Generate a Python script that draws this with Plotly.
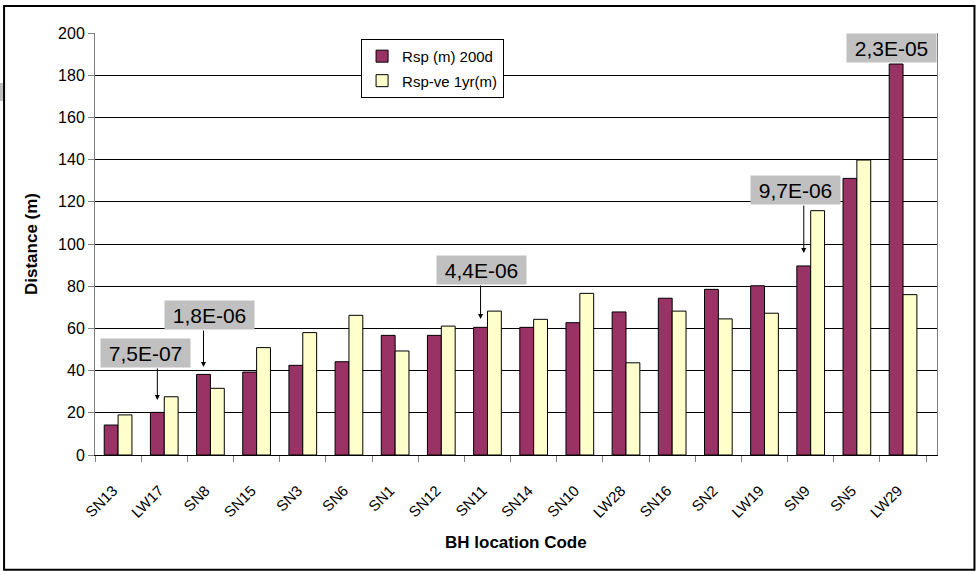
import plotly.graph_objects as go

categories = ["SN13", "LW17", "SN8", "SN15", "SN3", "SN6", "SN1", "SN12", "SN11",
              "SN14", "SN10", "LW28", "SN16", "SN2", "LW19", "SN9", "SN5", "LW29"]
rsp_200d = [14.2, 20.2, 38.2, 39.3, 42.5, 44.2, 56.7, 56.7, 60.5,
            60.5, 62.7, 67.8, 74.3, 78.5, 80.2, 89.6, 131.1, 185.3]
rsp_ve_1yr = [19.0, 27.6, 31.6, 50.9, 58.0, 66.2, 49.3, 61.1, 68.2,
              64.3, 76.6, 43.7, 68.2, 64.5, 67.2, 115.8, 139.8, 76.0]

# annotation labels: (text, box x index, box y value, arrow x index, arrow tip y value, arrow length px)
ann_text = ["7,5E-07", "1,8E-06", "4,4E-06", "9,7E-06", "2,3E-05"]
ann_box_x = [0.60, 1.97, 7.865, 14.67, 16.75]
ann_box_y = [48.3, 66.4, 87.9, 125.6, 193.1]
ann_tip_x = [0.85, 1.85, 7.85, 14.85, None]
ann_tip_y = [26.1, 41.7, 64.5, 95.7, None]
ann_len = [33, 38, 35, 49, None]

FONT = "Arial, Liberation Sans, sans-serif"

fig = go.Figure()
fig.add_trace(go.Bar(x=categories, y=rsp_200d, name="Rsp (m) 200d",
                     marker=dict(color="#993366", line=dict(color="#000000", width=1)),
                     legendgroup="a"))
fig.add_trace(go.Bar(x=categories, y=rsp_ve_1yr, name="Rsp-ve 1yr(m)",
                     marker=dict(color="#FFFFCC", line=dict(color="#000000", width=1)),
                     legendgroup="b"))

annotations = []
for t, bx, by, tx, ty, ln in zip(ann_text, ann_box_x, ann_box_y, ann_tip_x, ann_tip_y, ann_len):
    if tx is not None:
        annotations.append(dict(x=tx, y=ty, xref="x", yref="y", text="", showarrow=True,
                                ax=0, ay=-ln, arrowhead=2, arrowsize=1, arrowwidth=1,
                                arrowcolor="#000000", standoff=0, startstandoff=0))
    annotations.append(dict(x=bx, y=by, xref="x", yref="y", text=t, showarrow=False,
                            bgcolor="#C0C0C0", borderpad=2, width=85, height=24,
                            font=dict(family=FONT, size=21, color="#000000")))

annotations.append(dict(x=0.5, y=-0.208, xref="paper", yref="paper", text="<b>BH location Code</b>",
                        showarrow=False, xanchor="center", yanchor="middle",
                        font=dict(family=FONT, size=17, color="#000000")))

shapes = [
    dict(type="rect", xref="paper", yref="paper", x0=-0.108, x1=1.0445, y0=-0.272, y1=1.064,
         line=dict(color="#000000", width=2), fillcolor="rgba(0,0,0,0)", layer="below"),
    dict(type="rect", xref="paper", yref="paper", x0=-0.1128, x1=-0.1093, y0=0.839, y1=0.8815,
         line=dict(width=0), fillcolor="#C0C0C0"),
]

fig.update_layout(
    width=978, height=571,
    margin=dict(l=95, r=41, t=33, b=116),
    paper_bgcolor="#FFFFFF", plot_bgcolor="#FFFFFF",
    barmode="group", bargap=0.4, bargroupgap=0,
    font=dict(family=FONT, size=14, color="#000000"),
    showlegend=True,
    legend=dict(x=0.316, y=0.986, xanchor="left", yanchor="top",
                bgcolor="#FFFFFF", bordercolor="#000000", borderwidth=1,
                font=dict(family=FONT, size=15, color="#000000"),
                tracegroupgap=2, itemwidth=30),
    annotations=annotations,
    shapes=shapes,
    xaxis=dict(type="category", tickangle=-45, tickson="boundaries", ticks="outside",
               ticklen=6, tickcolor="#808080", showline=True, linecolor="#000000",
               linewidth=1, showgrid=False, ticklabelstandoff=20, ticklabelshift=-5,
               tickfont=dict(family=FONT, size=15, color="#000000")),
    yaxis=dict(range=[0, 200], dtick=20, ticks="outside", ticklen=6, tickcolor="#808080",
               showline=True, linecolor="#808080", linewidth=1, mirror=True,
               showgrid=True, gridcolor="#000000", gridwidth=1, zeroline=False,
               tickfont=dict(family=FONT, size=16, color="#000000"),
               title=dict(text="<b>Distance (m)</b>", standoff=16,
                          font=dict(family=FONT, size=17, color="#000000"))),
)

fig.write_html("out.html", config={"displayModeBar": False},
               post_script="document.body.style.margin='0';document.body.style.overflow='hidden';")
